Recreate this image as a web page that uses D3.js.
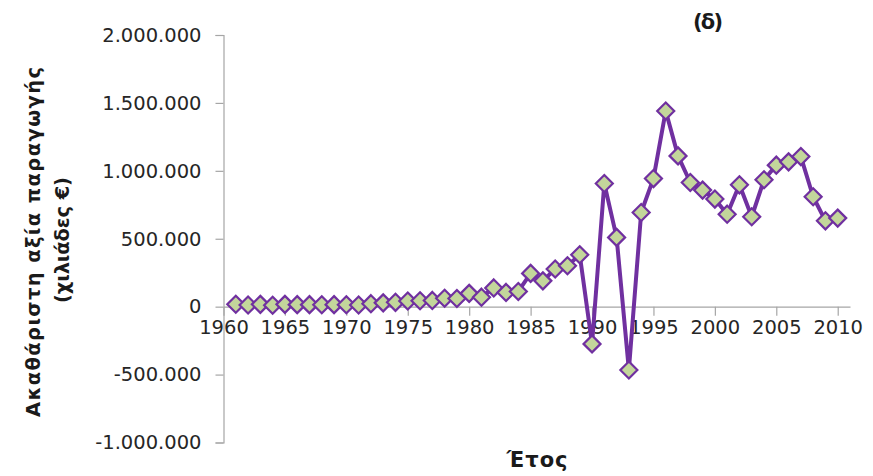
<!DOCTYPE html>
<html>
<head>
<meta charset="utf-8">
<script src="https://cdn.jsdelivr.net/npm/d3@7"></script>
<style>
  html, body { margin: 0; padding: 0; background: #fff; }
  svg { display: block; }
</style>
</head>
<body>
<svg id="chart" width="873" height="476"></svg>
<script>
// ---- data ----
const years = [1961,1962,1963,1964,1965,1966,1967,1968,1969,1970,
               1971,1972,1973,1974,1975,1976,1977,1978,1979,1980,
               1981,1982,1983,1984,1985,1986,1987,1988,1989,1990,
               1991,1992,1993,1994,1995,1996,1997,1998,1999,2000,
               2001,2002,2003,2004,2005,2006,2007,2008,2009,2010];
const values = [18000,12000,17000,10000,17000,15000,15000,14000,15000,14000,
                12000,22000,28000,32000,42000,44000,46000,62000,60000,98000,
                70000,138000,105000,112000,245000,190000,277000,301000,382000,-274000,
                907000,510000,-466000,693000,943000,1441000,1110000,914000,858000,792000,
                681000,897000,662000,934000,1042000,1066000,1105000,809000,632000,652000];
const yTicks = [-1000000,-500000,0,500000,1000000,1500000,2000000];
const xTicks = [1960,1965,1970,1975,1980,1985,1990,1995,2000,2005,2010];
const title = "(δ)";
const yTitle1 = "Ακαθάριστη αξία παραγωγής";
const yTitle2 = "(χιλιάδες €)";
const xTitle = "Έτος";

// ---- layout ----
const svg = d3.select("#chart");
const x = d3.scaleLinear().domain([1960, 2011]).range([223.5, 850]);
const y = d3.scaleLinear().domain([-1000000, 2000000]).range([442.5, 35]);
const fmt = v => d3.format(",")(v).replace(/,/g, ".").replace("−", "-");
const axisColor = "#a6a6a6";
const font = "DejaVu Sans, Verdana, sans-serif";

// y axis
const yAxis = svg.append("g").attr("transform", "translate(223.5,0)")
  .call(d3.axisLeft(y).tickValues(yTicks).tickSize(8).tickPadding(14).tickFormat(fmt));
yAxis.select(".domain").attr("stroke", axisColor).attr("stroke-width", 1.2);
yAxis.selectAll(".tick line").attr("stroke", axisColor).attr("stroke-width", 1.2);
yAxis.selectAll(".tick text").attr("fill", "#262626")
  .style("font-family", font).style("font-size", "19.5px");

// x axis at zero
const xAxis = svg.append("g").attr("transform", `translate(0,${y(0)})`)
  .call(d3.axisBottom(x).tickValues(xTicks).tickSize(9).tickSizeOuter(0).tickPadding(14).tickFormat(d3.format("d")));
xAxis.select(".domain").attr("stroke", axisColor).attr("stroke-width", 1.2);
xAxis.selectAll(".tick line").attr("stroke", axisColor).attr("stroke-width", 1.2);
xAxis.selectAll(".tick text").attr("fill", "#262626").attr("dy", "0.2em")
  .style("font-family", font).style("font-size", "19.5px");

// line
const line = d3.line().x((d, i) => x(years[i])).y(d => y(d));
svg.append("path").datum(values)
  .attr("d", line)
  .attr("fill", "none")
  .attr("stroke", "#7030a0")
  .attr("stroke-width", 4)
  .attr("stroke-linejoin", "round");

// diamond markers
const r = 8.5;
svg.append("g").selectAll("path").data(values).join("path")
  .attr("transform", (d, i) => `translate(${x(years[i])},${y(d)})`)
  .attr("d", `M0,${-r}L${r},0L0,${r}L${-r},0Z`)
  .attr("fill", "#c3d69b")
  .attr("stroke", "#7030a0")
  .attr("stroke-width", 2.2);

// titles
svg.append("text").attr("x", 708).attr("y", 29).attr("text-anchor", "middle")
  .style("font-family", font).style("font-weight", "bold").style("font-size", "21px")
  .attr("textLength", 30).attr("lengthAdjust", "spacing")
  .attr("fill", "#1a1a1a").text(title);

svg.append("text").attr("transform", "translate(40,242) rotate(-90)").attr("text-anchor", "middle")
  .style("font-family", font).style("font-weight", "bold").style("font-size", "19.5px")
  .attr("textLength", 350).attr("lengthAdjust", "spacing")
  .attr("fill", "#1a1a1a").text(yTitle1);
svg.append("text").attr("transform", "translate(69,240) rotate(-90)").attr("text-anchor", "middle")
  .style("font-family", font).style("font-weight", "bold").style("font-size", "19.5px")
  .attr("textLength", 126).attr("lengthAdjust", "spacing")
  .attr("fill", "#1a1a1a").text(yTitle2);

svg.append("text").attr("x", 537).attr("y", 467).attr("text-anchor", "middle")
  .style("font-family", font).style("font-weight", "bold").style("font-size", "21px")
  .attr("textLength", 61).attr("lengthAdjust", "spacing")
  .attr("fill", "#1a1a1a").text(xTitle);
</script>
</body>
</html>
